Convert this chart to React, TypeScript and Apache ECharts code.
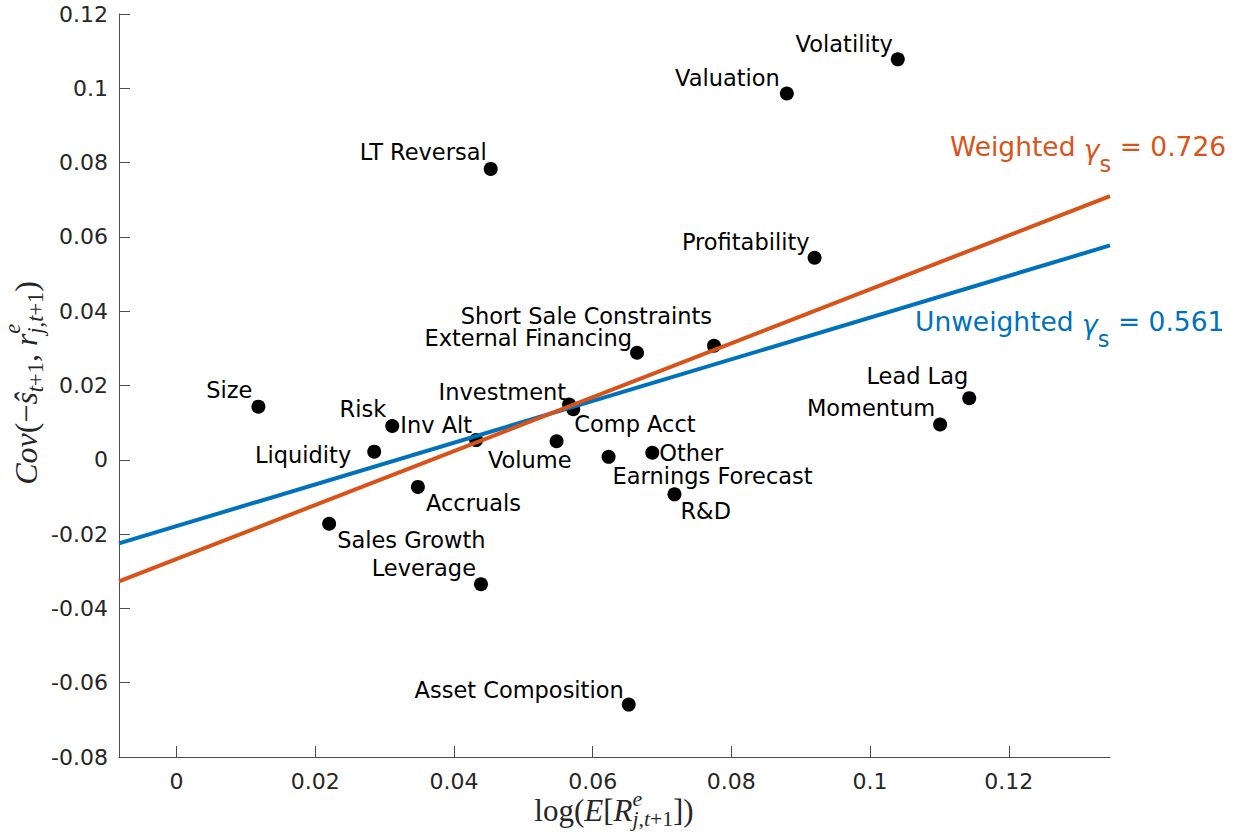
import React, { useEffect, useRef } from "react";
import * as echarts from "echarts";

// ---------- data ----------
const pointNames = [
  "Volatility", "Valuation", "LT Reversal", "Profitability", "Short Sale Constraints",
  "External Financing", "Size", "Investment", "Comp Acct", "Risk", "Inv Alt",
  "Liquidity", "Volume", "Earnings Forecast", "Other", "R&D", "Accruals",
  "Sales Growth", "Leverage", "Asset Composition", "Lead Lag", "Momentum",
];
const expReturn = [
  0.1040, 0.0880, 0.0453, 0.0920, 0.0775,
  0.0664, 0.0118, 0.0566, 0.0572, 0.0311, 0.0432,
  0.0285, 0.0548, 0.0623, 0.0686, 0.0718, 0.0348,
  0.0220, 0.0439, 0.0652, 0.1143, 0.1101,
];
const covValues = [
  0.1078, 0.0986, 0.0783, 0.0544, 0.0307,
  0.0288, 0.0143, 0.0149, 0.0136, 0.0091, 0.0053,
  0.0022, 0.0050, 0.0008, 0.0019, -0.0093, -0.0073,
  -0.0172, -0.0335, -0.0659, 0.0166, 0.0095,
];
const weightedLine = [[-0.0083, -0.0327], [0.1346, 0.0710]];
const unweightedLine = [[-0.0083, -0.0225], [0.1346, 0.0577]];
const weightedGamma = "0.726";
const unweightedGamma = "0.561";
const xTicks = [0, 0.02, 0.04, 0.06, 0.08, 0.1, 0.12];
const X_MIN = -0.0083;
const X_MAX = 0.1346;
const Y_MIN = -0.08;
const Y_MAX = 0.12;
const Y_STEP = 0.02;

// label placement (pixel offset from dot centre, text alignment)
const labelPlacement: [number, number, string][] = [
  [-5, -15, "right"], [-7, -16, "right"], [-4, -17, "right"], [-5, -16, "right"], [-2, -30, "right"],
  [-5, -15, "right"], [-6, -17, "right"], [-3, -12, "right"], [1, 15, "left"], [-6, -17, "right"], [-4, -15, "right"],
  [-23, 3, "right"], [15, 19, "right"], [4, 19, "left"], [7, 0, "left"], [6, 17, "left"], [8, 16, "left"],
  [8, 16, "left"], [-5, -16, "right"], [-5, -15, "right"], [-1, -22, "right"], [-5, -17, "right"],
];

// ---------- math-like text helper ----------
type Item = { t: string; i?: boolean; r?: "main" | "sub" | "sup" };

function mathText(items: Item[], family: string, size: number, color: string, scale: number, subDy: number, supDy: number, mainDy: (it: Item) => number = () => 0) {
  const ctx = document.createElement("canvas").getContext("2d")!;
  let x = 0;
  let supStart = -1;
  let supEnd = -1;
  let stackedSub = false;
  const children: any[] = [];
  let prevRole = "main";
  for (const it of items) {
    const role = it.r || "main";
    const fs = role === "main" ? size : size * scale;
    const fstyle = it.i ? "italic" : "normal";
    ctx.font = `${fstyle} ${fs}px ${family}`;
    const w = ctx.measureText(it.t).width;
    if (role === "sup") {
      if (prevRole !== "sup") supStart = x;
    } else if (role === "sub") {
      if (prevRole === "sup" && supStart >= 0) {
        supEnd = x;
        x = supStart;
        stackedSub = true;
      }
    } else {
      if (stackedSub) {
        x = Math.max(x, supEnd);
        stackedSub = false;
        supStart = -1;
      } else if (prevRole === "sup") {
        supStart = -1;
      }
    }
    const dy = role === "sub" ? subDy * size : role === "sup" ? supDy * size : mainDy(it);
    children.push({
      type: "text",
      x,
      y: dy,
      silent: true,
      style: {
        text: it.t,
        fill: color,
        fontSize: fs,
        fontFamily: family,
        fontStyle: fstyle,
        align: "left",
        verticalAlign: "middle",
      },
    });
    x += w;
    prevRole = role;
  }
  if (stackedSub) x = Math.max(x, supEnd);
  return { children, width: x };
}

const fmt = (v: number) => String(parseFloat(v.toFixed(4)));

export default function App() {
  const ref = useRef<HTMLDivElement>(null);

  useEffect(() => {
    document.body.style.margin = "0";
    if (!ref.current) return;
    const chart = echarts.init(ref.current, undefined, { renderer: "svg" });

    const SANS = "DejaVu Sans";
    const SERIF = "Liberation Serif";

    const weighted = mathText(
      [{ t: "Weighted " }, { t: "γ", i: true }, { t: "s", r: "sub" }, { t: " = " + weightedGamma }],
      SANS, 26.5, "#D95319", 0.85, 0.68, -0.4, (it) => (it.t === "γ" ? 3 : 0)
    );
    const unweighted = mathText(
      [{ t: "Unweighted " }, { t: "γ", i: true }, { t: "s", r: "sub" }, { t: " = " + unweightedGamma }],
      SANS, 26.5, "#0072BD", 0.85, 0.68, -0.4, (it) => (it.t === "γ" ? 3 : 0)
    );
    const xTitle = mathText(
      [
        { t: "log(" }, { t: "E", i: true }, { t: "[" }, { t: "R", i: true },
        { t: "e", i: true, r: "sup" },
        { t: "j", i: true, r: "sub" }, { t: ",", r: "sub" }, { t: "t", i: true, r: "sub" }, { t: "+1", r: "sub" },
        { t: "])" },
      ],
      SERIF, 31, "#262626", 0.7, 0.3, -0.36
    );
    const yTitle = mathText(
      [
        { t: "Cov", i: true }, { t: "(−" }, { t: "ŝ", i: true },
        { t: "t", i: true, r: "sub" }, { t: "+1", r: "sub" },
        { t: ", " }, { t: "r", i: true },
        { t: "e", i: true, r: "sup" },
        { t: "j", i: true, r: "sub" }, { t: ",", r: "sub" }, { t: "t", i: true, r: "sub" }, { t: "+1", r: "sub" },
        { t: ")" },
      ],
      SERIF, 32, "#262626", 0.7, 0.3, -0.42
    );

    const axisColor = "#4d4d4d";
    const tickFont = { fontSize: 22, fontFamily: SANS, color: "#262626" };

    const scatterData = pointNames.map((n, k) => ({
      name: n,
      value: [expReturn[k], covValues[k]],
      label: {
        offset: [labelPlacement[k][0], labelPlacement[k][1]],
        align: labelPlacement[k][2],
        verticalAlign: "middle",
      },
    }));

    chart.setOption({
      animation: false,
      backgroundColor: "#ffffff",
      grid: { left: 119, top: 14, width: 991, height: 743, containLabel: false },
      xAxis: {
        type: "value",
        min: X_MIN,
        max: X_MAX,
        axisLine: { show: true, onZero: false, lineStyle: { color: axisColor, width: 1 } },
        axisTick: { show: true, inside: true, length: 11, customValues: xTicks, lineStyle: { color: axisColor, width: 1 } },
        axisLabel: { show: true, customValues: xTicks, formatter: (v: number) => fmt(v), margin: 13, ...tickFont },
        splitLine: { show: false },
      },
      yAxis: {
        type: "value",
        min: Y_MIN,
        max: Y_MAX,
        interval: Y_STEP,
        axisLine: { show: true, onZero: false, lineStyle: { color: axisColor, width: 1 } },
        axisTick: { show: true, inside: true, length: 11, lineStyle: { color: axisColor, width: 1 } },
        axisLabel: { show: true, formatter: (v: number) => fmt(v), margin: 11, ...tickFont },
        splitLine: { show: false },
      },
      series: [
        {
          type: "scatter",
          symbol: "circle",
          symbolSize: 14,
          itemStyle: { color: "#000000", opacity: 1 },
          z: 2,
          silent: true,
          label: {
            show: true,
            position: "inside",
            formatter: "{b}",
            color: "#000000",
            fontSize: 22.5,
            fontFamily: SANS,
            textBorderWidth: 0,
          },
          data: scatterData,
        },
        {
          type: "line",
          data: unweightedLine,
          showSymbol: false,
          symbol: "none",
          silent: true,
          z: 3,
          lineStyle: { color: "#0072BD", width: 4 },
        },
        {
          type: "line",
          data: weightedLine,
          showSymbol: false,
          symbol: "none",
          silent: true,
          z: 4,
          lineStyle: { color: "#D95319", width: 4 },
        },
      ],
      graphic: [
        { type: "group", x: 950, y: 146, children: weighted.children },
        { type: "group", x: 915, y: 321, children: unweighted.children },
        { type: "group", x: 614 - xTitle.width / 2, y: 810, children: xTitle.children },
        { type: "group", x: 26, y: 383 + yTitle.width / 2, rotation: Math.PI / 2, children: yTitle.children },
      ],
    });

    return () => chart.dispose();
  }, []);

  return <div ref={ref} style={{ width: 1251, height: 838 }} />;
}
